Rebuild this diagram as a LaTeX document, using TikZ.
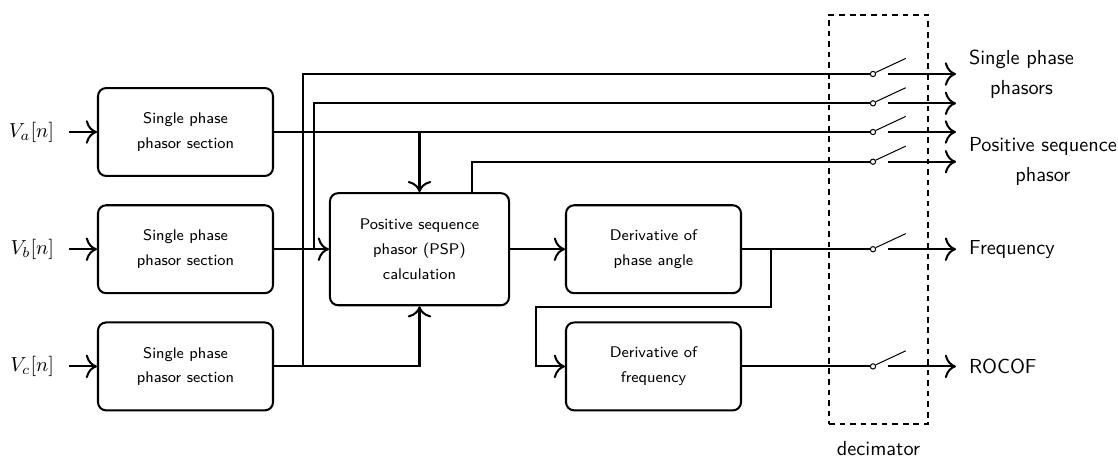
\documentclass[tikz,border=0pt]{standalone}
\usepackage{fontspec}
\usepackage{amsmath}
\usepackage{tikz}
\usetikzlibrary{positioning,arrows.meta}
\newcommand{\Vin}[1]{V_{#1}[n]}
\newcommand{\SPS}{Single phase\\phasor section}

\begin{document}
\begin{tikzpicture}[x=0.4926pt, y=-0.4926pt, >={To[scale=1.45]}, line width=1pt,
  block/.style={draw, rounded corners=4pt, minimum width=86.2pt, minimum height=43.3pt,
    align=center, inner sep=2pt, font=\sffamily\fontsize{7.6}{12.2}\selectfont},
  pspbox/.style={block, minimum width=88.2pt, minimum height=55.2pt},
  inlabel/.style={anchor=east, inner xsep=6.9pt},
  outlabel/.style={align=center, inner xsep=5.9pt, font=\sffamily\fontsize{10}{14.8}\selectfont},
  swc/.style={circle, draw, fill=white, line width=0.5pt, inner sep=0pt, minimum size=2.6pt},
  lever/.style={line width=0.5pt},
  decbox/.style={draw, dash pattern=on 2.8pt off 2.4pt, minimum width=48.8pt, minimum height=201.5pt}]

\useasboundingbox (0,0) rectangle (1118,457);

\node[block] (sa) at (185.5,132) {\SPS};
\node[block] (sb) at (185.5,249.2) {\SPS};
\node[block] (sc) at (185.5,366.4) {\SPS};
\node[pspbox] (psp) at (419.5,249.2) {Positive sequence\\phasor (PSP)\\calculation};
\node[block] (dang) at (653.5,249.2) {Derivative of\\phase angle};
\node[block] (dfreq) at (653.5,366.4) {Derivative of\\frequency};

\node[inlabel] (va) at (69,0 |- sa) {$\Vin{a}$};
\node[inlabel] (vb) at (69,0 |- sb) {$\Vin{b}$};
\node[inlabel] (vc) at (69,0 |- sc) {$\Vin{c}$};

\node[decbox] (dec) at (878.5,219.5) {};
\node[outlabel, below=4.4pt of dec] (decl) {decimator};

\node[swc] (s1) at (873,74) {};
\node[swc] (s2) at (873,103.3) {};
\node[swc] (s3) at (873,0 |- sa) {};
\node[swc] (s4) at (873,161.7) {};
\node[swc] (s5) at (873,0 |- dang) {};
\node[swc] (s6) at (873,0 |- dfreq) {};

\coordinate[right=5.6pt of s1] (t1);
\coordinate[right=5.6pt of s2] (t2);
\coordinate[right=5.6pt of s3] (t3);
\coordinate[right=5.6pt of s4] (t4);
\coordinate[right=5.6pt of s5] (t5);
\coordinate[right=5.6pt of s6] (t6);

\node[outlabel, anchor=west] (lsp) at (956,0 |- s1) {Single phase\\phasors};
\coordinate (o2) at (956,0 |- s2);
\coordinate (o3) at (956,0 |- s3);
\node[outlabel, anchor=west] (lpsp) at (956,0 |- s4) {Positive sequence\\phasor};
\node[outlabel, anchor=west] (lfreq) at (956,0 |- s5) {Frequency};
\node[outlabel, anchor=west] (lrocof) at (956,0 |- s6) {ROCOF};

\coordinate (c1) at (302.7,0 |- sc);
\coordinate (c2) at (314.3,0 |- sb);
\coordinate (c3) at (psp |- sa);
\coordinate (c4) at (471.7,0 |- psp.north);
\coordinate (c5) at (771,0 |- dang);
\coordinate (c6) at (536,307);

\path[->]
(va) edge (sa)
(vb) edge (sb)
(vc) edge (sc)
(sb) edge (psp)
(psp) edge (dang)
(c3) edge (psp)
;

\draw[->] (sc) -| (psp);
\draw (sa) -- (s3);
\draw (c1) |- (s1);
\draw (c2) |- (s2);
\draw (c4) |- (s4);
\draw (dang) -- (s5);
\draw (dfreq) -- (s6);
\draw[->] (c5) |- (c6) |- (dfreq);

\draw[lever] (s1.30) -- ++(30,-14);
\draw[lever] (s2.30) -- ++(30,-14);
\draw[lever] (s3.30) -- ++(30,-14);
\draw[lever] (s4.30) -- ++(30,-14);
\draw[lever] (s5.30) -- ++(30,-14);
\draw[lever] (s6.30) -- ++(30,-14);

\path[->]
(t1) edge (lsp)
(t2) edge (o2)
(t3) edge (o3)
(t4) edge (lpsp)
(t5) edge (lfreq)
(t6) edge (lrocof)
;

\end{tikzpicture}
\end{document}
